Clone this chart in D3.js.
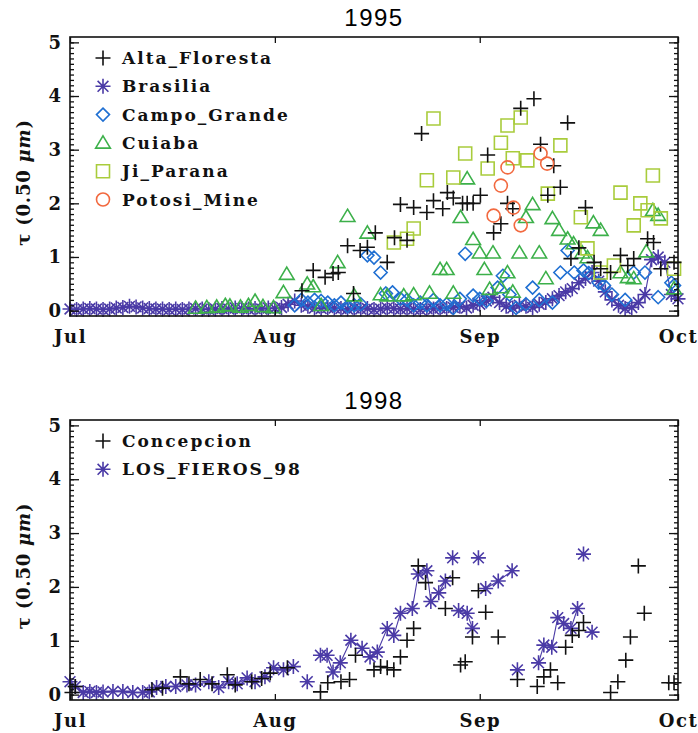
<!DOCTYPE html>
<html>
<head>
<meta charset="utf-8">
<script src="https://cdn.jsdelivr.net/npm/d3@7"></script>
<style>
  body { margin: 0; background: #fff; }
</style>
</head>
<body>
<script>
// days counted from 1 Jul (Aug 1 = 31, Sep 1 = 62, Oct 1 = 92)
const monthTicks = [0, 31, 62, 92];
const monthNames = ["Jul", "Aug", "Sep", "Oct"];
const tauTicks = [0, 1, 2, 3, 4, 5];

// ---- 1995 ----
const altaDay = [35.1,36.8,38.6,39.8,40.6,42,42.9,43.9,45,46.2,48,49.1,50,51,52,53.2,54,55,56.4,57.1,58,59.4,60.1,61,62.1,63.2,64.1,65.2,66.2,67,68.2,70.2,71.2,72.3,73.2,74.2,75.3,75.8,77,78,79.3,80.3,81.8,83.3,84.4,85.3,87.4,88.3,89.4,91.4];
const altaTau = [0.37,0.75,0.62,0.69,0.71,1.21,0.32,1.12,1.18,1.45,0.9,1.36,1.98,1.31,1.92,3.3,1.83,2.05,1.9,2.2,2.1,2.0,2.0,2.0,2.15,2.9,1.45,1.62,2.0,1.9,3.77,3.95,3.1,2.15,2.7,2.3,3.5,0.97,1.17,1.92,0.9,0.78,0.71,1.03,0.84,0.97,1.34,1.27,0.78,0.9];

// Brasilia: one value a day, 1 Jul .. 1 Oct
const brasTau = [0.03,0.02,0.03,0.04,0.03,0.02,0.03,0.05,0.06,0.08,0.07,0.05,0.04,0.03,0.03,0.02,0.03,0.02,0.03,0.04,0.03,0.02,0.03,0.04,0.03,0.05,0.04,0.03,0.04,0.03,0.05,
  0.04,0.06,0.12,0.18,0.10,0.08,0.05,0.04,0.06,0.05,
  0.04,0.03,0.05,0.03,0.04,0.02,0.03,0.05,0.04,0.03,0.04,0.03,0.02,0.04,0.03,0.05,0.04,0.06,0.08,0.05,0.10,
  0.12,0.18,0.25,0.15,0.08,0.05,0.10,0.08,0.06,0.12,0.15,
  0.22,0.28,0.35,0.41,0.52,0.60,0.71,0.55,0.35,0.20,0.10,0.04,0.06,0.15,0.30,0.95,1.00,0.90,0.30,0.22];
const brasDay = brasTau.map((_, i) => i);

const campoDay = [34,35,36,37,38,39,40,41,42,43,44,45,46,47,47.8,48.8,50,51,52,53,54,55,56,57,58,59,59.8,61,62,63,64.7,65.5,66.5,67.5,69,70,71,73,74.2,75.3,76.3,77.7,78.5,80,80.8,82,84,85.3,87,89,91,91.4];
const campoTau = [0.1,0.2,0.15,0.2,0.18,0.15,0.1,0.15,0.08,0.1,0.12,1.03,0.99,0.71,0.32,0.34,0.22,0.2,0.1,0.15,0.1,0.2,0.1,0.12,0.05,0.22,1.06,0.28,0.22,0.18,0.43,0.65,0.3,0.05,0.12,0.43,0.2,0.15,0.71,1.12,0.71,0.75,0.7,0.52,0.47,0.3,0.2,0.71,0.71,0.25,0.52,0.47];

const cuiabaDay = [19,20.7,22.2,23.5,24.2,25.8,27,28,29.2,30.8,32.3,32.8,35.9,36.8,38,40.5,42,43,45,47,48,50.5,52,54.4,56,57,58,59.1,60.1,61,62,62.7,63.5,64,65.2,66.2,67,68,69,70,71,72,73,74,75.3,76.2,77.5,78.3,79.2,80.3,83.3,84.4,85.3,87.2,88.2,89,91.4];
const cuiabaTau = [0.05,0.06,0.07,0.1,0.09,0.07,0.1,0.18,0.08,0.06,0.34,0.68,0.5,0.45,0.1,0.9,1.76,0.28,1.45,0.3,0.28,0.28,0.3,0.33,0.77,0.77,0.33,1.74,2.46,1.33,1.08,0.77,0.4,1.08,0.43,0.71,0.35,1.08,1.74,1.98,1.08,0.6,1.72,1.5,1.34,1.25,1.08,0.99,1.64,1.5,0.71,0.62,0.6,1.1,1.87,1.78,0.41];

const jiDay = [49,51,52,54,55,58,59.8,63.2,65.2,66.2,67,68.2,69.2,72.3,74.2,77.3,78.3,80.3,82.3,83.3,85.3,86.3,87.4,88.2,89.4,91.4];
const jiTau = [1.27,1.34,1.53,2.43,3.58,2.48,2.93,2.65,3.13,3.45,2.84,3.6,2.8,2.18,3.08,1.74,1.16,0.71,0.84,2.2,1.59,2.0,1.87,2.52,1.72,0.78];

const potosiDay = [64.1,65.2,66.2,67.1,68.2,71.2,72.2];
const potosiTau = [1.77,2.33,2.67,1.92,1.59,2.93,2.74];

// ---- 1998 ----
const concDay = [0.3,0.8,12.4,14,16.7,18,19.7,21.5,23.8,25,27.5,29,30.3,32.9,37.9,39,41,42.3,43.2,46,47,48,49,50,51,52,52.7,53.8,56.8,57.9,59.1,59.8,60.9,61.8,62.9,64.8,67.7,70.7,71.7,72.7,73.8,75,76,77,77.7,81.8,82.9,84.1,84.8,86,86.9,90.6,91.4];
const concTau = [0.04,0.15,0.09,0.12,0.33,0.2,0.28,0.2,0.37,0.18,0.24,0.3,0.4,0.5,0.05,0.22,0.24,0.28,0.73,0.46,0.52,0.5,0.46,0.7,1.01,1.23,2.39,2.08,1.6,2.17,0.55,0.61,1.07,1.93,1.53,1.07,0.28,0.15,0.33,0.46,0.22,0.88,1.1,1.19,1.34,0.04,0.24,0.64,1.07,2.39,1.51,0.22,0.22];

const losDay = [0,0.8,2,3,4,5,6.5,8,9.5,11,12,13.1,14.5,16,17.7,19,21,22.5,24,25.3,26.8,28,29.5,30.8,32.3,33.8,35.9,37.9,38.9,39.8,40.9,42.5,44.2,45.4,46.5,48,49,50,51.8,52.7,54,54.6,55.8,56.8,57.9,58.8,60.1,60.9,61.8,62.9,64.8,66.9,67.7,70.9,71.7,72.9,73.8,74.7,75.8,76.8,77.7,79];
const losTau = [0.24,0.15,0.04,0.06,0.04,0.05,0.06,0.06,0.04,0.04,0.05,0.13,0.15,0.15,0.18,0.18,0.24,0.13,0.24,0.2,0.31,0.24,0.33,0.5,0.46,0.52,0.24,0.73,0.73,0.42,0.59,1.01,0.86,0.7,0.79,1.23,1.1,1.51,1.6,2.24,2.3,1.73,1.89,2.11,2.54,1.56,1.51,1.23,2.54,1.97,2.11,2.3,0.46,0.59,0.92,0.88,1.43,1.32,1.23,1.6,2.61,1.16];
// 1 = joined to the previous point by a line
const losLink = [0,1,1,1,1,1,1,1,1,1,1,1,1,1,1,1,1,1,1,1,1,1,1,1,1,1,0,0,1,1,1,1,1,1,1,1,1,1,1,1,1,1,1,1,0,0,1,1,0,0,1,1,0,0,1,1,1,1,1,1,0,0];

const serif = "'DejaVu Serif', serif";
const sans = "'Liberation Sans', Arial, sans-serif";

// marker paths (r = half size)
const markers = {
  plus: r => `M${-r},0H${r}M0,${-r}V${r}`,
  star: r => { const q = r * 0.72; return `M${-r},0H${r}M0,${-r}V${r}M${-q},${-q}L${q},${q}M${-q},${q}L${q},${-q}`; },
  diamond: r => `M0,${-r}L${r},0L0,${r}L${-r},0Z`,
  triangle: r => `M0,${-r}L${r * 1.05},${r * 0.75}L${-r * 1.05},${r * 0.75}Z`,
  square: r => `M${-r},${-r}H${r}V${r}H${-r}Z`,
  circle: r => `M${r},0A${r},${r} 0 1 1 ${-r},0A${r},${r} 0 1 1 ${r},0Z`
};
const markerSize = { plus: 7.5, star: 7.5, diamond: 6.5, triangle: 7, square: 6.5, circle: 6.5 };

const series1995 = [
  { name: "Alta_Floresta", sym: "plus", color: "#111111", day: altaDay, tau: altaTau },
  { name: "Brasilia", sym: "star", color: "#4a3aa6", day: brasDay, tau: brasTau, link: brasTau.map((_, i) => i > 0 ? 1 : 0) },
  { name: "Campo_Grande", sym: "diamond", color: "#1f6fd2", day: campoDay, tau: campoTau },
  { name: "Cuiaba", sym: "triangle", color: "#3cb04a", day: cuiabaDay, tau: cuiabaTau },
  { name: "Ji_Parana", sym: "square", color: "#a9cc3c", day: jiDay, tau: jiTau },
  { name: "Potosi_Mine", sym: "circle", color: "#f2693f", day: potosiDay, tau: potosiTau }
];
const series1998 = [
  { name: "Concepcion", sym: "plus", color: "#111111", day: concDay, tau: concTau },
  { name: "LOS_FIEROS_98", sym: "star", color: "#4a3aa6", day: losDay, tau: losTau, link: losLink }
];

const W = 698, H = 733;
const svg = d3.select("body").append("svg")
  .attr("width", W)
  .attr("height", H);

function drawPanel(top, bottom, title, series, drawOrder) {
  const left = 70, right = 678;
  const x = d3.scaleLinear().domain([0, 92]).range([left, right]);
  const y = d3.scaleLinear().domain([-0.1, 5.1]).range([bottom, top]);
  const g = svg.append("g");

  // title
  g.append("text")
    .attr("x", 374).attr("y", top - 11)
    .attr("text-anchor", "middle")
    .attr("font-family", sans)
    .attr("font-size", 24)
    .attr("letter-spacing", 1.5)
    .text(title);

  // data
  const plot = g.append("g");
  drawOrder.forEach(k => {
    const s = series[k];
    const pts = s.day.map((d, i) => ({ d: d, t: s.tau[i], link: s.link ? s.link[i] : 0 }));
    if (s.link) {
      const segs = [];
      pts.forEach((p, i) => { if (p.link && i > 0) segs.push([pts[i - 1], p]); });
      plot.append("g").selectAll("line")
        .data(segs)
        .join("line")
          .attr("x1", d => x(d[0].d)).attr("y1", d => y(d[0].t))
          .attr("x2", d => x(d[1].d)).attr("y2", d => y(d[1].t))
          .attr("stroke", s.color)
          .attr("stroke-width", 1.1);
    }
    plot.append("g").selectAll("path")
      .data(pts)
      .join("path")
        .attr("transform", d => `translate(${x(d.d)},${y(d.t)})`)
        .attr("d", markers[s.sym](markerSize[s.sym]))
        .attr("fill", "none")
        .attr("stroke", s.color)
        .attr("stroke-width", 1.6);
  });

  // axes
  const minor = d3.range(0, 51).map(i => i / 10);
  const styleAxis = sel => {
    sel.select(".domain").remove();
    sel.selectAll("line").attr("stroke", "#111").attr("stroke-width", 1.3);
    sel.selectAll("text")
      .attr("font-family", serif)
      .attr("font-weight", "bold")
      .attr("font-size", 18)
      .attr("fill", "#111");
  };
  g.append("g").attr("transform", `translate(${left},0)`)
    .call(d3.axisLeft(y).tickValues(minor).tickSize(-4).tickFormat(""))
    .call(styleAxis);
  g.append("g").attr("transform", `translate(${left},0)`)
    .call(d3.axisLeft(y).tickValues(tauTicks).tickSize(-9).tickPadding(9).tickFormat(d3.format("d")))
    .call(styleAxis);
  g.append("g").attr("transform", `translate(${right},0)`)
    .call(d3.axisRight(y).tickValues(minor).tickSize(-4).tickFormat(""))
    .call(styleAxis);
  g.append("g").attr("transform", `translate(${right},0)`)
    .call(d3.axisRight(y).tickValues(tauTicks).tickSize(-9).tickFormat(""))
    .call(styleAxis);
  g.append("g").attr("transform", `translate(0,${bottom})`)
    .call(d3.axisBottom(x).tickValues(monthTicks).tickSize(-6).tickPadding(14)
      .tickFormat((d, i) => monthNames[i]))
    .call(styleAxis)
    .selectAll("text").attr("letter-spacing", 1.5);
  g.append("g").attr("transform", `translate(0,${top})`)
    .call(d3.axisTop(x).tickValues(monthTicks).tickSize(-6).tickFormat(""))
    .call(styleAxis);

  g.append("rect")
    .attr("x", left).attr("y", top)
    .attr("width", right - left).attr("height", bottom - top)
    .attr("fill", "none")
    .attr("stroke", "#111")
    .attr("stroke-width", 1.6);

  // y label
  const yl = g.append("text")
    .attr("transform", `translate(30,${(top + bottom) / 2 + 6}) rotate(-90)`)
    .attr("text-anchor", "middle")
    .attr("font-family", serif)
    .attr("font-weight", "bold")
    .attr("font-size", 18)
    .attr("letter-spacing", 0.8)
    .attr("fill", "#111");
  yl.append("tspan").text("τ (0.50 ");
  yl.append("tspan").attr("font-style", "italic").text("μm");
  yl.append("tspan").text(")");

  // legend
  const leg = g.append("g").selectAll("g")
    .data(series)
    .join("g")
      .attr("transform", (d, i) => `translate(103,${top + 21 + i * 28.3})`);
  leg.append("path")
    .attr("d", d => markers[d.sym](markerSize[d.sym]))
    .attr("fill", "none")
    .attr("stroke", d => d.color)
    .attr("stroke-width", 1.6);
  leg.append("text")
    .attr("x", 19).attr("y", 6)
    .attr("font-family", serif)
    .attr("font-weight", "bold")
    .attr("font-size", 17)
    .attr("letter-spacing", 2)
    .attr("fill", "#111")
    .text(d => d.name);
}

drawPanel(37, 316, "1995", series1995, [1, 2, 3, 4, 0, 5]);
drawPanel(420, 700, "1998", series1998, [1, 0]);
</script>
</body>
</html>
